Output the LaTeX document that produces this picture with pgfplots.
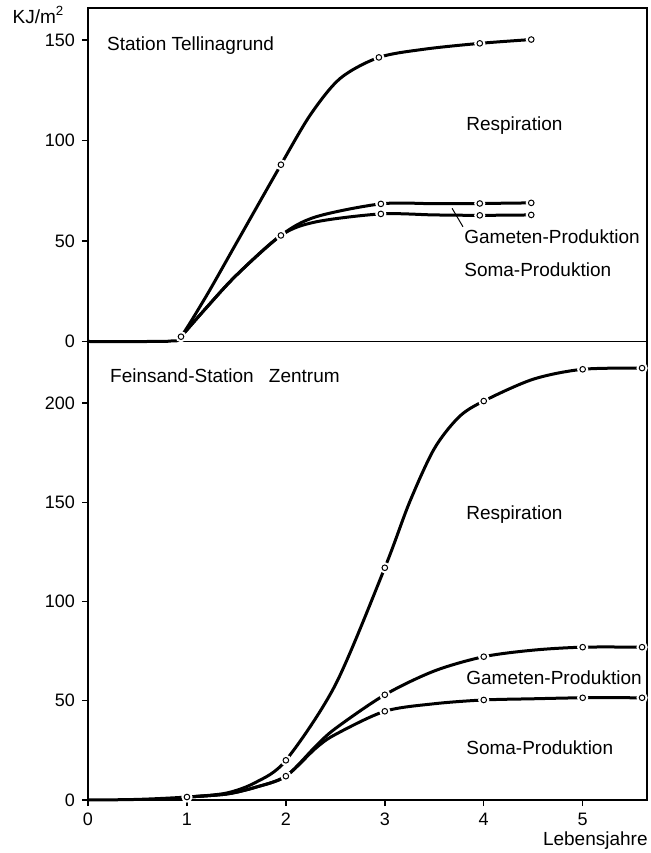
\documentclass[border=0pt]{standalone}
\usepackage{pgfplots}
\pgfplotsset{compat=1.18}
\usepackage{fontspec}
\setmainfont{Liberation Sans}
\pgfplotstableread{
x y
0 0
0.6 0
0.85 0.3
0.94 2.4
1.2 23
1.5 49
1.95 88
2.25 113
2.55 131
2.94 141.4
3.4 145.5
3.96 148.4
4.48 150.3
}\topresp
\pgfplotstableread{
x y
0.94 2.4
1.2 17
1.5 33
1.95 52.8
2.3 62
2.96 68.5
3.5 68.6
3.96 68.7
4.48 69
}\topgam
\pgfplotstableread{
x y
0.94 2.4
1.2 17
1.5 33
1.95 52.8
2.3 59.5
2.96 63.5
3.5 63
3.96 62.8
4.48 63
}\topsoma
\pgfplotstableread{
x y
0.94 2.4
1.95 88
2.94 141.4
3.96 148.4
4.48 150.3
1.95 52.8
2.96 68.5
3.96 68.7
4.48 69
2.96 63.5
3.96 62.8
4.48 63
}\topmarks
\pgfplotstableread{
x y
0 0
0.5 0.3
1 1.5
1.4 3.5
1.7 9
2 20
2.5 58
3 117
3.25 150
3.5 177
3.75 193
4 201
4.5 212
5 217
5.6 217.6
}\botresp
\pgfplotstableread{
x y
1 1.5
1.4 3
1.7 6.5
2 12
2.3 27
2.5 36
3 53
3.5 65
4 72.2
4.5 75.5
5 77
5.6 77
}\botgam
\pgfplotstableread{
x y
1 1.5
1.4 3
1.7 6.5
2 12
2.3 26
2.5 33
3 44.7
3.5 48.5
4 50.4
4.5 51
5 51.5
5.6 51.5
}\botsoma
\pgfplotstableread{
x y
1 1.5
2 20
2 12
3 117
3 53
3 44.7
4 201
4 72.2
4 50.4
5 217
5 77
5 51.5
5.6 217.6
5.6 77
5.6 51.5
}\botmarks
\tikzset{lab/.style={anchor=west, inner sep=0pt}}
\begin{document}
\begin{tikzpicture}
\useasboundingbox (-44pt,-26.5pt) rectangle (281pt,400pt);
\pgfplotsset{
  base/.style={scale only axis, width=279.5pt, xmin=0, xmax=5.65, clip=false,
    axis line style={line width=0.8pt},
    tick style={line width=0.7pt, black},
    tick align=outside, major tick length=3pt,
    xtick pos=left, ytick pos=left,
    font=\fontsize{9.5}{11}\selectfont,
    tick label style={font=\fontsize{9}{10}\selectfont},
    /pgf/number format/assume math mode=true,
  },
  curve/.style={black, line width=1.5pt, smooth, tension=0.5, no markers, line cap=round},
  halo/.style={only marks, mark=*, mark size=2.6pt, mark options={draw=white, fill=white}},
  circ/.style={only marks, mark=o, mark size=1.4pt, mark options={draw=black, line width=0.5pt}},
}
% bottom panel
\begin{axis}[base, at={(0,0)}, anchor=south west, height=229.25pt,
  ymin=0, ymax=231, xtick={0,1,2,3,4,5}, ytick={0,50,100,150,200}]
\addplot[curve] table {\botresp};
\addplot[curve] table {\botgam};
\addplot[curve] table {\botsoma};
\addplot[halo] table {\botmarks};
\addplot[circ] table {\botmarks};
\node[lab] at (axis cs:0.22,213.6) {Feinsand-Station\hspace{0.8em}Zentrum};
\node[lab] at (axis cs:3.82,143.6) {Respiration};
\node[lab] at (axis cs:3.82,61.5) {Gameten-Produktion};
\node[lab] at (axis cs:3.82,26.2) {Soma-Produktion};
\node[anchor=east, inner sep=0pt] at (axis cs:5.66,-20.5) {Lebensjahre};
\end{axis}
% top panel
\begin{axis}[base, at={(0,229.25pt)}, anchor=south west, height=166.75pt,
  ymin=0, ymax=166, xtick=\empty, ytick={0,50,100,150}]
\addplot[curve] table {\topresp};
\addplot[curve] table {\topgam};
\addplot[curve] table {\topsoma};
\addplot[halo] table {\topmarks};
\addplot[circ] table {\topmarks};
\draw[line width=0.5pt] (axis cs:3.68,66.3) -- (axis cs:3.79,57.1);
\node[lab] at (axis cs:0.19,147.5) {Station Tellinagrund};
\node[lab] at (axis cs:3.82,107.7) {Respiration};
\node[lab] at (axis cs:3.80,52) {Gameten-Produktion};
\node[lab] at (axis cs:3.80,35.6) {Soma-Produktion};
\node at (axis cs:-0.5,162.4) {KJ/m\textsuperscript{2}};
\end{axis}
\end{tikzpicture}
\end{document}
